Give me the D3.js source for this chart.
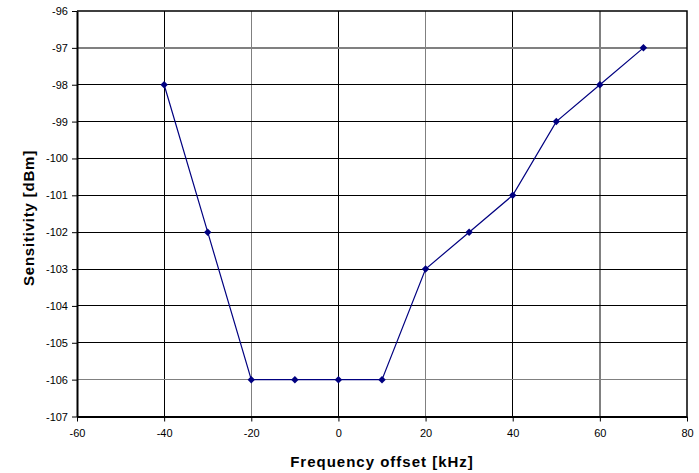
<!DOCTYPE html>
<html>
<head>
<meta charset="utf-8">
<script src="https://cdn.jsdelivr.net/npm/d3@7"></script>
<style>
  body { margin: 0; background: #fff; }
  text { font-family: "Liberation Sans", Arial, sans-serif; }
</style>
</head>
<body>
<div id="chart"></div>
<script>
// data
const freqOffset = [-40, -30, -20, -10, 0, 10, 20, 30, 40, 50, 60, 70];
const sensitivity = [-98, -102, -106, -106, -106, -106, -103, -102, -101, -99, -98, -97];
const xTicks = [-60, -40, -20, 0, 20, 40, 60, 80];
const yTicks = [-107, -106, -105, -104, -103, -102, -101, -100, -99, -98, -97, -96];
// gridlines that came out grey in the original
const greyX = [-20, 20, 60];
const greyY = [-97, -106];

const w = 699, h = 473;
const plotLeft = 77, plotRight = 687, plotTop = 11, plotBottom = 416.5;

const svg = d3.select('#chart')
  .append('svg')
  .attr('width', w)
  .attr('height', h);

const xScale = d3.scaleLinear().domain([-60, 80]).range([plotLeft, plotRight]);
const yScale = d3.scaleLinear().domain([-107, -96]).range([plotBottom, plotTop]);

// gridlines
svg.append('g').selectAll('line')
  .data(xTicks.slice(1, -1))
  .enter().append('line')
  .attr('x1', d => xScale(d)).attr('x2', d => xScale(d))
  .attr('y1', plotTop).attr('y2', plotBottom)
  .attr('stroke', d => greyX.includes(d) ? '#808080' : '#000')
  .attr('stroke-width', d => greyX.includes(d) ? 1.5 : 1)
  .attr('shape-rendering', 'crispEdges');

svg.append('g').selectAll('line')
  .data(yTicks.slice(1, -1))
  .enter().append('line')
  .attr('x1', plotLeft).attr('x2', plotRight)
  .attr('y1', d => yScale(d)).attr('y2', d => yScale(d))
  .attr('stroke', d => greyY.includes(d) ? '#808080' : '#000')
  .attr('stroke-width', d => greyY.includes(d) ? 1.5 : 1)
  .attr('shape-rendering', 'crispEdges');

// frame (top + right)
svg.append('path')
  .attr('d', `M${plotLeft},${plotTop}H${plotRight}V${plotBottom}`)
  .attr('fill', 'none')
  .attr('stroke', '#000')
  .attr('stroke-width', 1.5);

// axes - plain hyphen minus like the original
const fmt = d => String(d);
const xAxis = d3.axisBottom(xScale).tickValues(xTicks).tickFormat(fmt).tickSize(5).tickSizeOuter(0).tickPadding(6);
const gx = svg.append('g')
  .attr('transform', 'translate(0,' + plotBottom + ')')
  .call(xAxis);

const yAxis = d3.axisLeft(yScale).tickValues(yTicks).tickFormat(fmt).tickSize(5).tickSizeOuter(0).tickPadding(4);
const gy = svg.append('g')
  .attr('transform', 'translate(' + plotLeft + ',0)')
  .call(yAxis);

[gx, gy].forEach(g => {
  g.select('.domain').attr('stroke', '#000').attr('stroke-width', 2);
  g.selectAll('.tick line').attr('stroke', '#000');
  g.selectAll('.tick text').attr('font-size', 11).attr('fill', '#000')
    .style('font-family', '"Liberation Sans", Arial, sans-serif');
});
gx.selectAll('.tick text').attr('dy', '0.9em');

// line + markers
const points = freqOffset.map((f, i) => [f, sensitivity[i]]);
const line = d3.line().x(d => xScale(d[0])).y(d => yScale(d[1]));

svg.append('path')
  .datum(points)
  .attr('d', line)
  .attr('fill', 'none')
  .attr('stroke', '#000080')
  .attr('stroke-width', 1.2);

// square diamonds (rotated square)
svg.append('g').selectAll('path')
  .data(points)
  .enter().append('path')
  .attr('d', d3.symbol(d3.symbolSquare, 28))
  .attr('transform', d => 'translate(' + xScale(d[0]) + ',' + yScale(d[1]) + ') rotate(45)')
  .attr('fill', '#000080');

// axis titles
svg.append('text')
  .attr('x', 382).attr('y', 467)
  .attr('text-anchor', 'middle')
  .attr('font-size', 15)
  .attr('font-weight', 'bold')
  .attr('letter-spacing', 1)
  .text('Frequency offset [kHz]');

svg.append('text')
  .attr('transform', 'translate(34,218) rotate(-90)')
  .attr('text-anchor', 'middle')
  .attr('font-size', 15)
  .attr('font-weight', 'bold')
  .attr('letter-spacing', 0.8)
  .text('Sensitivity [dBm]');
</script>
</body>
</html>
